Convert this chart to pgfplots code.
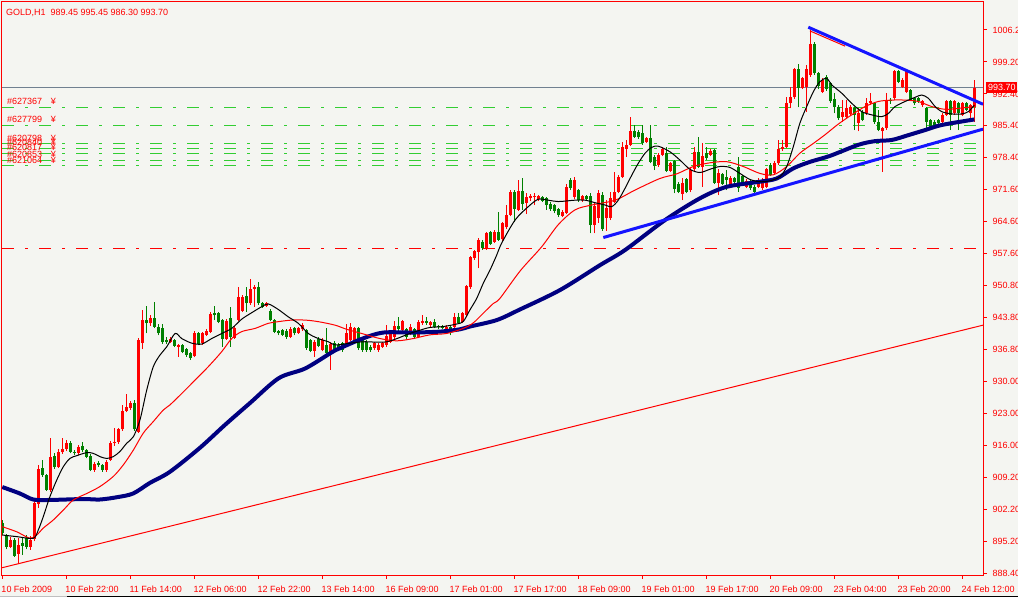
\documentclass[border=0pt]{standalone}
\usepackage{fontspec}
\setmainfont{Liberation Sans}
\usepackage{pgfplots}
\usepackage{pgfplotstable}
\pgfplotsset{compat=1.18}

\definecolor{bg}{RGB}{244,245,241}
\definecolor{bull}{RGB}{255,0,0}
\definecolor{bear}{RGB}{0,128,0}
\definecolor{ordgreen}{RGB}{50,205,50}
\definecolor{navyma}{RGB}{0,0,128}
\definecolor{trend}{RGB}{20,20,255}
\definecolor{pline}{RGB}{112,128,144}

\newcommand{\mtfont}{\fontsize{9bp}{10bp}\selectfont}

% GOLD H1 bars: index, open, high, low, close
\pgfplotstableread{
i o h l c
0 899.2 900.0 896.6 897.1
1 896.4 897.0 893.6 894.2
2 894.2 896.2 893.9 895.6
3 895.6 896.0 891.9 892.2
4 892.6 896.0 890.6 894.6
5 894.9 896.0 892.4 894.4
6 896.0 896.6 893.6 894.2
7 894.2 896.4 893.5 895.6
8 895.8 904.2 895.3 903.6
9 903.4 911.8 902.6 911.0
10 911.3 913.0 909.3 909.7
11 909.7 910.0 906.2 906.5
12 906.5 917.7 906.1 913.7
13 913.9 914.4 911.0 911.5
14 911.5 915.3 911.2 914.8
15 914.6 917.7 914.3 915.3
16 915.3 917.2 914.9 916.6
17 916.6 917.0 914.4 914.8
18 914.8 915.1 914.0 914.5
19 914.5 916.2 914.0 915.7
20 916.0 916.8 914.6 915.1
21 915.1 915.4 913.3 913.7
22 913.9 914.2 910.5 910.9
23 910.8 912.6 910.4 912.2
24 912.3 912.7 911.4 911.8
25 911.9 912.2 910.4 910.8
26 910.8 913.0 910.4 912.6
27 913.0 917.0 912.7 916.6
28 916.6 919.8 916.0 916.9
29 916.9 920.0 916.5 919.6
30 919.6 924.9 919.3 923.6
31 923.6 927.2 923.3 924.4
32 924.3 925.8 923.8 925.3
33 925.4 926.0 919.2 919.6
34 919.1 939.5 918.8 939.0
35 938.3 945.5 937.0 943.3
36 943.3 946.4 940.4 942.6
37 942.6 944.3 942.0 943.7
38 943.7 947.3 941.5 941.9
39 941.9 942.5 940.0 940.4
40 941.6 942.4 938.2 938.6
41 938.9 939.7 938.2 938.6
42 938.6 939.6 938.3 939.3
43 939.0 939.3 937.4 937.7
44 937.5 938.1 935.4 937.9
45 937.9 938.1 936.1 936.45
46 937.0 937.3 935.4 935.7
47 936.1 936.4 934.7 935.0
48 935.5 941.0 935.2 940.6
49 940.4 940.8 937.8 938.1
50 938.3 940.8 938.0 940.4
51 940.1 941.4 939.8 941.0
52 940.8 945.0 940.5 944.6
53 944.8 946.35 943.3 944.3
54 944.8 945.1 942.6 942.96
55 943.3 943.6 937.5 939.3
56 939.3 943.6 939.0 943.2
57 943.7 946.2 937.5 939.7
58 939.5 942.0 939.2 941.5
59 943.3 950.5 943.0 948.4
60 945.3 948.8 945.0 948.4
61 948.5 950.5 945.0 946.9
62 946.9 952.3 946.6 950.0
63 950.0 950.9 946.2 950.5
64 950.5 951.6 946.6 946.9
65 946.9 947.2 945.9 946.2
66 946.4 947.3 946.1 946.9
67 945.3 945.6 943.0 943.3
68 943.3 943.6 940.4 940.8
69 940.9 941.2 940.0 940.4
70 941.1 941.4 939.8 940.1
71 941.0 941.3 939.3 939.7
72 939.7 941.7 939.4 941.3
73 941.5 941.8 940.0 940.4
74 940.6 941.9 940.3 941.5
75 941.3 942.6 941.0 942.2
76 941.1 941.4 936.9 937.2
77 939.0 939.3 936.3 936.7
78 936.6 939.0 935.4 938.6
79 939.3 939.6 937.4 937.7
80 936.8 939.4 936.5 939.0
81 937.9 941.5 935.7 936.1
82 936.0 938.5 932.5 938.1
83 938.4 938.8 936.4 936.8
84 937.9 938.3 936.5 937.2
85 938.3 938.6 936.4 936.8
86 938.3 942.5 937.9 940.5
87 939.0 942.6 938.7 941.9
88 938.6 941.9 938.2 941.5
89 941.5 941.9 936.8 937.2
90 939.0 939.3 936.4 936.8
91 938.6 939.0 936.4 936.8
92 937.5 937.9 936.4 936.8
93 937.2 938.6 936.8 938.3
94 936.8 938.3 936.4 937.9
95 937.5 938.6 937.2 938.3
96 937.9 942.2 937.5 939.8
97 938.6 940.8 938.3 940.4
98 939.7 943.0 939.3 942.0
99 942.0 944.0 940.4 941.3
100 941.1 943.3 940.8 943.0
101 941.3 941.6 939.3 939.7
102 940.4 942.45 940.0 941.9
103 941.3 941.6 939.3 939.7
104 939.7 943.3 939.4 942.9
105 942.7 944.3 942.3 943.0
106 943.0 944.0 942.2 942.7
107 942.2 943.2 941.9 942.9
108 942.9 943.5 941.5 941.9
109 942.0 942.3 941.4 941.7
110 941.9 942.2 941.3 941.6
111 941.1 942.2 940.8 941.9
112 941.9 942.2 940.0 941.1
113 941.9 944.8 941.6 944.0
114 944.0 944.8 942.4 942.7
115 942.9 945.1 942.6 944.8
116 944.5 951.0 944.2 950.7
117 950.4 957.2 950.1 956.9
118 956.7 958.6 956.4 958.3
119 958.1 961.0 954.5 960.7
120 960.3 960.6 958.6 958.9
121 958.9 962.4 958.6 962.1
122 962.3 962.6 959.6 959.9
123 960.3 962.8 960.0 962.5
124 962.5 966.8 960.4 960.7
125 960.8 964.6 960.5 964.3
126 963.4 968.25 963.1 966.1
127 966.1 971.5 965.8 971.1
128 971.1 971.5 964.6 967.4
129 967.2 973.7 966.9 971.3
130 971.3 974.0 967.2 968.5
131 968.75 970.9 966.3 969.9
132 969.7 970.6 969.2 970.2
133 969.9 970.8 968.25 970.2
134 969.5 970.5 969.2 970.2
135 969.9 970.2 968.9 969.2
136 969.7 970.0 967.2 968.25
137 968.5 968.8 967.0 967.4
138 968.25 968.5 966.45 967.0
139 967.3 967.6 965.6 966.1
140 965.9 967.1 965.6 966.8
141 966.6 972.8 966.3 972.2
142 973.7 974.0 971.5 971.9
143 970.0 974.3 969.6 973.7
144 971.5 971.8 969.0 969.3
145 969.3 970.5 969.0 970.2
146 970.2 970.5 969.2 969.5
147 970.2 970.8 962.1 963.9
148 963.9 969.0 962.1 968.0
149 965.4 971.5 964.4 970.8
150 970.4 971.1 962.7 963.0
151 965.4 969.3 962.7 967.5
152 965.4 971.1 965.0 969.7
153 969.0 975.5 968.7 971.1
154 971.1 974.7 970.8 974.4
155 974.4 982.0 974.1 980.9
156 980.5 982.3 978.7 981.3
157 981.3 987.4 981.0 984.4
158 984.4 985.6 982.8 983.1
159 984.15 984.5 982.6 982.9
160 983.9 985.6 981.3 981.6
161 982.0 983.0 981.7 982.7
162 982.7 985.6 977.3 977.6
163 978.7 979.0 975.8 976.7
164 976.9 979.5 976.6 979.2
165 979.1 980.9 978.8 980.5
166 979.5 980.9 975.4 975.7
167 975.7 977.6 975.4 977.3
168 977.7 978.0 970.8 971.7
169 972.9 973.2 970.8 971.15
170 970.6 974.0 969.3 973.1
171 973.8 974.1 970.8 971.15
172 971.5 976.3 971.0 975.9
173 976.0 980.9 975.7 979.8
174 979.8 983.1 976.3 976.6
175 976.6 981.8 972.2 978.9
176 979.5 980.9 978.1 978.4
177 979.1 980.3 978.8 980.0
178 980.2 980.5 972.8 973.1
179 973.1 976.0 970.4 975.1
180 975.0 975.3 972.5 972.8
181 974.4 975.8 971.5 973.7
182 972.9 974.5 972.6 974.2
183 974.0 974.3 973.0 973.3
184 976.6 978.7 971.15 971.9
185 974.55 974.8 972.5 972.8
186 972.2 973.8 971.9 973.5
187 973.1 973.7 971.5 971.9
188 972.2 972.5 970.8 971.15
189 972.2 974.0 971.9 973.3
190 971.9 974.0 971.5 973.7
191 972.2 976.3 971.9 976.0
192 976.9 977.3 974.5 974.8
193 975.1 977.7 974.8 977.4
194 977.3 982.35 977.0 980.5
195 980.3 982.35 980.0 980.9
196 980.9 991.7 980.6 990.3
197 990.3 993.9 989.2 991.7
198 991.6 998.0 991.3 997.7
199 997.7 998.8 989.4 993.6
200 993.6 996.0 993.3 995.7
201 993.9 998.6 988.5 997.7
202 996.4 1006.2 996.1 1003.2
203 1003.2 1003.5 996.5 996.8
204 996.8 997.1 993.3 994.1
205 992.8 995.7 992.5 995.4
206 996.1 996.4 993.0 993.3
207 994.6 994.9 990.4 990.7
208 991.2 992.5 988.1 989.6
209 989.6 989.9 986.7 987.05
210 987.4 991.0 986.3 988.5
211 987.4 991.0 987.1 989.2
212 988.0 990.0 987.7 989.6
213 989.2 989.5 984.5 987.8
214 986.0 989.2 984.2 988.1
215 988.5 988.8 986.4 986.7
216 988.1 991.4 987.8 990.45
217 990.3 992.5 990.0 990.7
218 990.3 990.6 985.9 986.3
219 986.3 988.9 984.2 984.5
220 984.2 985.2 975.5 984.9
221 984.9 992.5 984.6 991.0
222 991.0 991.4 990.2 990.7
223 991.4 997.5 991.1 997.2
224 997.2 997.5 994.6 995.0
225 993.9 995.7 993.6 995.4
226 992.8 997.5 992.5 997.2
227 993.2 993.5 990.7 991.0
228 991.4 991.7 990.0 990.3
229 991.4 991.7 990.4 990.7
230 989.9 991.0 989.6 990.7
231 989.2 989.5 984.4 986.3
232 986.7 987.0 984.9 985.25
233 986.3 986.6 985.3 985.6
234 986.7 987.0 985.7 986.0
235 986.3 988.1 986.0 987.8
236 987.8 991.0 987.5 990.7
237 990.7 991.0 984.5 987.8
238 988.1 991.0 987.8 990.7
239 990.3 990.6 984.5 988.1
240 987.8 990.6 987.5 990.3
241 990.3 990.6 988.6 988.9
242 988.1 990.2 986.7 989.9
243 989.45 995.45 986.30 993.70
}\candles

\begin{document}
\begin{tikzpicture}
\useasboundingbox (0,0) rectangle (1018bp,597bp);
\fill[bg] (0,0) rectangle (1018bp,597bp);

\begin{axis}[
    at={(2bp,22bp)}, anchor=south west,
    scale only axis, width=981bp, height=573bp,
    xmin=-0.075, xmax=245.175,
    ymin=888.03, ymax=1012.27,
    axis line style={red, line width=1bp},
    tick style={red, line width=1bp},
    tick align=outside,
    major tick length=3.5bp,
    xtick pos=bottom, ytick pos=right, yticklabel pos=right,
    xtick={0,16,...,240},
    xticklabels={10 Feb 2009, 10 Feb 22:00, 11 Feb 14:00, 12 Feb 06:00,
        12 Feb 22:00, 13 Feb 14:00, 16 Feb 09:00, 17 Feb 01:00,
        17 Feb 17:00, 18 Feb 09:00, 19 Feb 01:00, 19 Feb 17:00,
        20 Feb 09:00, 23 Feb 04:00, 23 Feb 20:00, 24 Feb 12:00},
    xticklabel style={anchor=base west, inner sep=0pt, xshift=-1bp,
        yshift=-14bp, text=red, font=\mtfont},
    ytick={1006.20,999.27,992.34,985.41,978.48,971.55,964.62,957.69,950.76,
        943.84,936.91,929.98,923.05,916.12,909.19,902.26,895.33,888.40},
    yticklabels={1006.20,999.20,992.40,985.40,978.40,971.60,964.60,957.60,
        950.80,943.80,936.80,930.00,923.00,916.00,909.20,902.20,895.20,888.40},
    yticklabel style={anchor=west, inner sep=0pt, xshift=6bp,
        text=red, font=\mtfont},
]

% order levels
\pgfplotsinvokeforeach{989.44,985.54,981.63,980.55,979.47,977.95,976.78}{
  \addplot[ordgreen, line width=1bp, dash pattern=on 12bp off 11bp on 3bp off 11bp]
    coordinates {(-0.075,#1) (245.175,#1)};
}
\addplot[red, line width=1bp, dash pattern=on 12bp off 11bp on 3bp off 11bp]
  coordinates {(-0.075,958.87) (245.175,958.87)};
% bid line
\addplot[pline, line width=1bp] coordinates {(-0.075,993.70) (245.175,993.70)};
% long support line
\addplot[red, line width=1bp] coordinates {(-0.075,889.6) (245.175,942.2)};

% wicks
\addplot[draw=none, mark=none,
    restrict expr to domain={\thisrow{c}-\thisrow{o}}{0:1000},
    error bars/.cd, y dir=plus, y explicit, error mark=none,
    error bar style={draw=bull, line width=1bp}]
  table[x=i, y=l, y error plus expr=\thisrow{h}-\thisrow{l}] {\candles};
\addplot[draw=none, mark=none,
    restrict expr to domain={\thisrow{o}-\thisrow{c}}{0.00001:1000},
    error bars/.cd, y dir=plus, y explicit, error mark=none,
    error bar style={draw=bear, line width=1bp}]
  table[x=i, y=l, y error plus expr=\thisrow{h}-\thisrow{l}] {\candles};
% bodies
\addplot[draw=none, mark=none,
    restrict expr to domain={\thisrow{c}-\thisrow{o}}{0:1000},
    error bars/.cd, y dir=plus, y explicit, error mark=none,
    error bar style={draw=bull, line width=3bp}]
  table[x=i, y expr={min(\thisrow{o},\thisrow{c})},
        y error plus expr={max(abs(\thisrow{c}-\thisrow{o}),0.22)}] {\candles};
\addplot[draw=none, mark=none,
    restrict expr to domain={\thisrow{o}-\thisrow{c}}{0.00001:1000},
    error bars/.cd, y dir=plus, y explicit, error mark=none,
    error bar style={draw=bear, line width=3bp}]
  table[x=i, y expr={min(\thisrow{o},\thisrow{c})},
        y error plus expr={max(abs(\thisrow{c}-\thisrow{o}),0.22)}] {\candles};

% slow MA (thick navy)
\addplot[navyma, line width=4bp, smooth] coordinates {
(0,907.1) (4.4,905.7) (7.75,904.4) (11.9,904.3) (20.2,904.5) (24.4,904.4)
(28.7,904.9) (32.7,905.7) (36.9,908.0) (41.9,910.4) (49.4,915.6) (55.7,920.6)
(61.9,925.3) (69.1,930.7) (75.7,932.8) (82.35,936.3) (84.4,937.2) (90.25,939.35)
(95.25,940.6) (102.7,940.6) (109.4,940.8) (114.4,941.3) (116.9,941.9) (123.6,943.3)
(129.4,945.6) (139.4,949.8) (149.4,955.2) (155.7,958.5) (165.7,965.0) (174.4,969.7)
(181.1,972.2) (189.4,973.3) (193.6,974.0) (197.75,976.2) (201.9,977.6) (206.9,978.9)
(214,981.3) (218.2,982.1) (222.35,982.35) (226.5,983.4) (230.7,984.5) (234.85,985.6)
(243,986.8)};

% medium MA (red)
\addplot[red, line width=1bp, smooth] coordinates {
(0,898.5) (3.6,897.4) (6.9,896.0) (8.6,896.7) (10.25,898.2) (12.75,899.96)
(15.25,902.1) (17.75,904.3) (21.1,905.7) (24.4,907.2) (27.75,909.4) (30.25,911.9)
(32.75,915.1) (35.25,918.8) (37.75,921.3) (40.25,923.8) (41.9,924.9) (45,927.5)
(48.2,930.3) (51.5,933.2) (54.85,936.45) (57.35,939.3) (59.85,940.8) (63.2,941.5)
(66.5,942.6) (69,942.96) (72.35,943.3) (75.7,943.3) (79,942.96) (83.2,942.2)
(86.1,941.3) (90.25,940.3) (94.4,939.3) (98.6,938.8) (102.75,939.3) (106.9,940.1)
(111.1,940.4) (115.25,941.5) (117.75,942.7) (120.25,944.8) (122.75,946.9) (124.4,948.0)
(129.5,954.0) (134.85,959.2) (139,964.0) (143.2,967.2) (147.35,968.25) (153.2,969.3)
(158.2,971.5) (164.4,974.0) (168.6,975.0) (172.75,976.6) (176.9,977.4) (181.1,977.65)
(185.25,976.6) (189.4,975.1) (192.75,974.8) (196.1,976.6) (199.4,979.5) (202.75,981.6)
(205.7,983.5) (209,985.8) (212.35,987.8) (215.7,989.6) (219,990.7) (222.35,991.0)
(225.7,991.0) (229,990.7) (232.35,989.6) (235.7,989.0) (239,989.2) (243,989.6)};

% fast MA (black)
\addplot[black, line width=1bp, smooth] coordinates {
(0,896.7) (3.6,896.35) (7.75,896.0) (9,897.8) (10.25,900.7) (11.9,905.0)
(13.6,908.6) (15.25,911.5) (16.9,913.3) (18.6,913.9) (21.1,914.56) (22.75,914.4)
(24.4,913.7) (26.1,913.3) (27.75,913.7) (29.4,914.8) (31.1,916.6) (32.75,918.0)
(34.4,921.6) (36.1,928.1) (37.75,933.2) (39.4,935.7) (41.1,937.5) (43.2,940.4)
(44.85,939.3) (47.35,938.3) (49.85,938.1) (52.35,939.3) (54.85,940.4) (57.35,941.5)
(59.85,943.5) (62.35,944.9) (64.85,946.2) (66.5,946.8) (69,945.6) (71.5,944.0)
(74,942.6) (76.5,940.4) (79,939.3) (81.5,938.6) (83.2,937.9) (86.1,938.2)
(90.25,938.6) (96.1,938.6) (101.9,940.4) (104.4,941.1) (106.9,941.7) (110.25,941.9)
(113.6,942.45) (115.25,943.0) (116.9,945.5) (118.6,948.0) (120.25,951.3) (121.9,954.1)
(123.6,957.4) (124.85,960.0) (128.2,965.0) (131.5,967.9) (134,969.5) (136.5,969.3)
(139,969.0) (143.2,969.3) (145.7,969.3) (148.2,968.75) (150.7,968.25) (152.35,967.9)
(154,969.3) (155.7,971.9) (157.35,974.7) (159,977.3) (160.7,979.5) (162.35,980.75)
(164,981.0) (166.9,979.8) (169.4,978.0) (171.9,976.0) (174.4,975.3) (176.9,976.0)
(179.4,976.6) (181.9,976.4) (184.4,975.1) (186.9,973.8) (189.4,973.3) (191.9,973.5)
(194.4,974.4) (196.1,976.6) (197.75,980.9) (199.4,986.0) (201.1,989.6) (202.75,992.8)
(204.4,995.0) (206.1,995.7) (207.35,994.3) (209.85,992.5) (212.35,990.3) (214.85,988.5)
(217.35,987.8) (219.85,987.4) (221.5,988.1) (223.2,989.6) (225.7,990.7) (228.2,991.6)
(229.85,992.1) (231.5,991.4) (233.2,989.6) (234.85,988.5) (237.35,988.0) (239.85,988.0)
(241.5,988.5) (243,989.9)};

% triangle
\addplot[red, line width=1bp] coordinates {(201.9,1006.0) (210.7,1002.7)};
\addplot[trend, line width=3bp] coordinates {(201.5,1006.8) (245.175,990.1)};
\addplot[trend, line width=3bp] coordinates {(150.25,961.2) (245.175,984.7)};

% labels
\node[anchor=west, text=red, font=\mtfont, inner sep=0pt] at (axis cs:0.9,1009.8)
  {GOLD,H1\ \ 989.45 995.45 986.30 993.70};
\def\ordlabel#1#2{%
  \node[anchor=base west, text=red, font=\mtfont, inner sep=0pt, yshift=2.3bp]
    at (axis cs:1.175,#1) {\##2};
  \node[anchor=base west, text=red, font=\mtfont, inner sep=0pt, yshift=2.3bp]
    at (axis cs:12.1,#1) {¥};}
\ordlabel{976.78}{621064}
\ordlabel{977.95}{620853}
\ordlabel{979.47}{620817}
\ordlabel{980.55}{620840}
\ordlabel{981.63}{620798}
\ordlabel{985.54}{627799}
\ordlabel{989.44}{627367}
\end{axis}

% current price tag
\fill[red] (986bp,503.7bp) rectangle (1017.3bp,514.7bp);
\node[anchor=west, text=white, font=\mtfont, inner sep=0pt] at (988bp,509.2bp) {993.70};
% window edge
\draw[line width=1bp, black!25] (0,0.7bp) -- (67bp,0.7bp);
\draw[line width=1bp, black] (67bp,0.7bp) -- (1018bp,0.7bp);
\end{tikzpicture}
\end{document}
